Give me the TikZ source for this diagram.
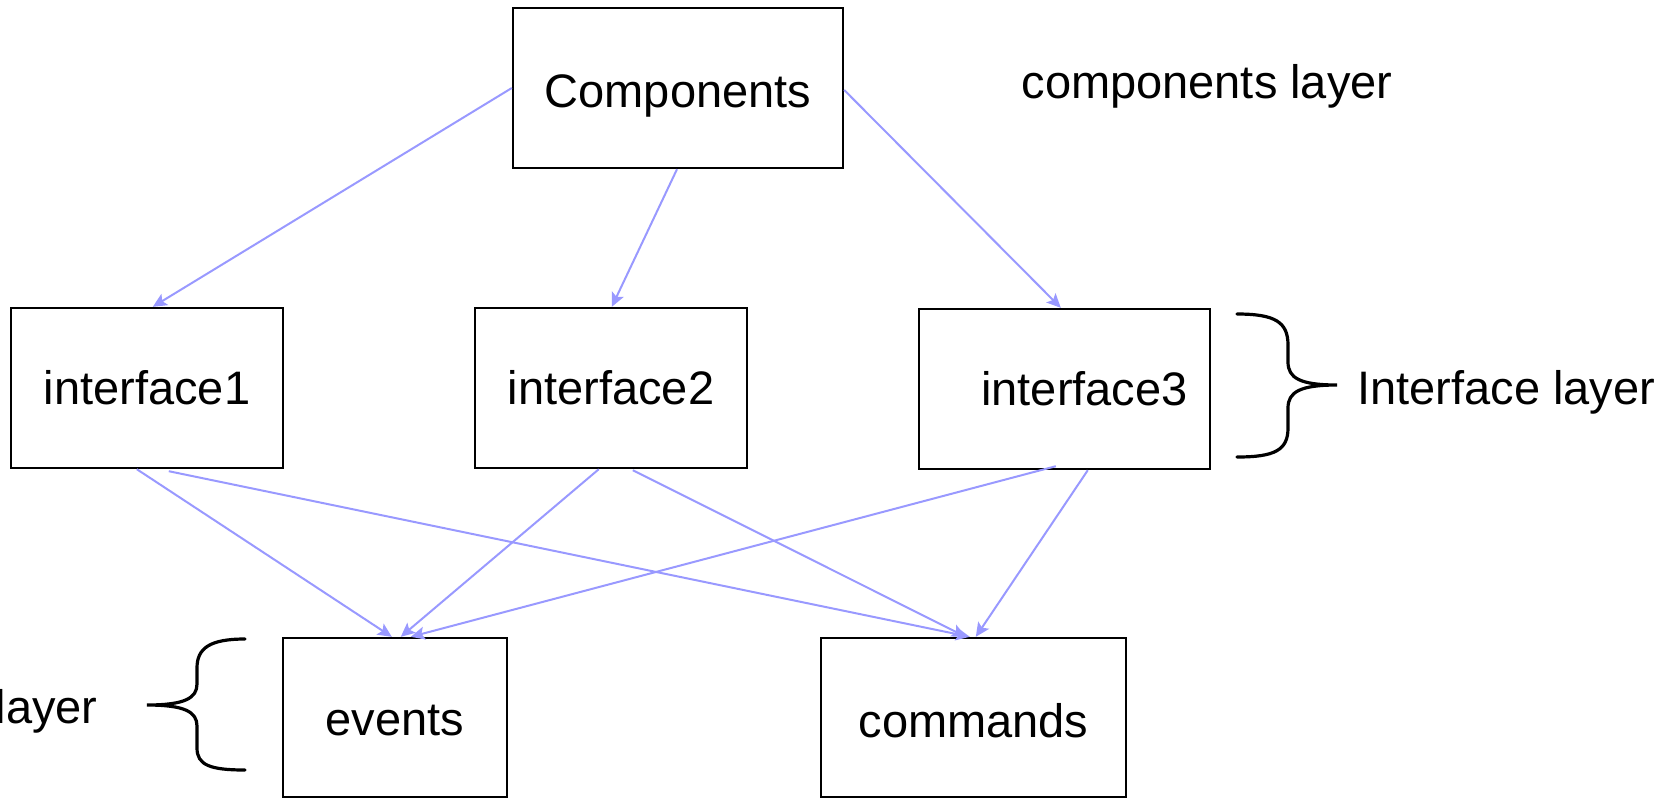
\documentclass[tikz,border=0pt]{standalone}
\usepackage{fontspec}
\setmainfont{Liberation Sans}
\usetikzlibrary{arrows.meta,calc}
\begin{document}
\begin{tikzpicture}[x=0.5pt,y=-0.5pt,
  box/.style={draw=black,line width=1.2pt,fill=white,inner sep=0pt,minimum height=80pt,font=\fontsize{23.5}{28}\selectfont},
  lbl/.style={inner sep=0pt,font=\fontsize{23.5}{28}\selectfont},
  conn/.style={draw={rgb,255:red,153;green,153;blue,255},line width=1pt,-{Stealth[length=7pt,width=6.5pt,inset=1.5pt]}},
  brace/.style={draw=black,line width=1.6pt,line cap=round}]
\useasboundingbox (0,0) rectangle (1666,800);
\node[box,minimum width=165pt,label={[lbl,yshift=-4pt]center:Components}] (comp) at (678,88) {};
\node[box,minimum width=136pt] (i1) at (147,388) {interface1};
\node[box,minimum width=136pt] (i2) at (611,388) {interface2};
\node[box,minimum width=145.5pt] (i3) at (1064.5,389) {\hspace*{20pt}interface3};
\node[box,minimum width=112pt,minimum height=79.5pt,label={[lbl,yshift=-1.5pt]center:events}] (ev) at (395,717.5) {};
\node[box,minimum width=152.5pt,minimum height=79.5pt,label={[lbl,yshift=-1.5pt]center:commands}] (cm) at (973.5,717.5) {};
\node[lbl] (cl) at (1207,86) {components layer};
\node[lbl,anchor=west] (il) at (1357,392) {Interface layer};
\node[lbl,anchor=east] (el) at (98,711) {layer};
\path[conn] (comp.west) -- ($(i1.north west)+(143,0)$);
\path[conn] ($(comp.south)+(-1,0)$) -- ($(i2.north west)+(138,0)$);
\path[conn] ($(comp.east)+(0,2)$) -- ($(i3.north west)+(143,0)$);
\path[conn] ($(i1.south west)+(127,0)$) -- ($(ev.north west)+(110,0)$);
\path[conn] ($(i1.south west)+(159,2)$) -- ($(cm.north west)+(150,0)$);
\path[conn] ($(i2.south west)+(125,0)$) -- ($(ev.north west)+(119,0)$);
\path[conn] ($(i2.south west)+(159,1)$) -- ($(cm.north west)+(146,0)$);
\path[conn] ($(i3.south west)+(138,-4)$) -- ($(ev.north west)+(129,0)$);
\path[conn] ($(i3.south west)+(170,0)$) -- ($(cm.north west)+(156,0)$);
\draw[brace] (1237,314) .. controls (1275,314) and (1288,322) .. (1288,345) -- (1288,362) .. controls (1288,378) and (1300,385) .. (1337,385) .. controls (1300,385) and (1288,392) .. (1288,408) -- (1288,428) .. controls (1288,450) and (1275,457) .. (1237,457);
\draw[brace] (245,639) .. controls (210,639) and (197,648) .. (197,668) -- (197,684) .. controls (197,698) and (185,705) .. (147,705) .. controls (185,705) and (197,712) .. (197,726) -- (197,748) .. controls (197,765) and (210,770) .. (245,770);
\end{tikzpicture}
\end{document}
